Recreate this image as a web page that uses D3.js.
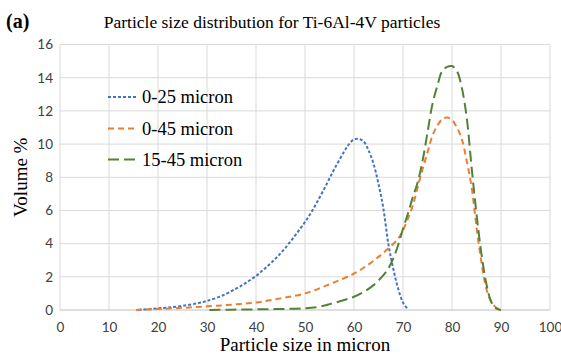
<!DOCTYPE html>
<html>
<head>
<meta charset="utf-8">
<script src="https://d3js.org/d3.v7.min.js"></script>
<style>
	body { margin: 0; background: #fff; }
</style>
</head>
<body>
<div id="chart"></div>
<script>
var titleText = "Particle size distribution for Ti-6Al-4V particles";
var panelLabel = "(a)";
var xTitle = "Particle size in micron";
var yTitle = "Volume %";
var xTicks = [0, 10, 20, 30, 40, 50, 60, 70, 80, 90, 100];
var yTicks = [0, 2, 4, 6, 8, 10, 12, 14, 16];
var seriesNames = ["0-25 micron", "0-45 micron", "15-45 micron"];

// 0-25 micron
var sizeA = [16, 18, 20, 22, 25, 28, 30, 33, 36, 38, 40, 42, 44, 46, 48, 50, 52, 54, 56, 58, 59, 60, 61, 62, 63, 64, 65, 66, 67, 68, 69, 70, 71];
var volA = [0.02, 0.05, 0.1, 0.15, 0.25, 0.4, 0.55, 0.85, 1.3, 1.65, 2.05, 2.55, 3.1, 3.75, 4.5, 5.3, 6.25, 7.35, 8.5, 9.55, 10.0, 10.28, 10.3, 10.15, 9.6, 8.8, 7.6, 6.1, 4.0, 2.5, 1.3, 0.45, 0.05];

// 0-45 micron
var sizeB = [15.5, 18, 20, 25, 30, 35, 40, 45, 50, 55, 60, 63, 65, 67, 69, 70, 71, 72, 73, 74, 75, 76, 77, 78, 79, 80, 81, 82, 83, 84, 85, 86, 87, 88, 89, 90];
var volB = [0, 0.03, 0.06, 0.13, 0.22, 0.32, 0.45, 0.7, 1.0, 1.55, 2.2, 2.75, 3.2, 3.7, 4.3, 4.8, 5.5, 6.3, 7.4, 8.5, 9.5, 10.5, 11.1, 11.5, 11.6, 11.45, 11.0, 10.3, 9.0, 7.4, 5.0, 2.9, 1.3, 0.5, 0.15, 0.02];

// 15-45 micron
var sizeC = [30.5, 35, 40, 45, 50, 53, 55, 58, 60, 62, 64, 66, 67, 68, 69, 70, 71, 72, 73, 74, 75, 76, 77, 78, 79, 80, 81, 82, 83, 84, 85, 86, 87, 88, 89, 90];
var volC = [0, 0.02, 0.04, 0.06, 0.1, 0.2, 0.35, 0.6, 0.8, 1.1, 1.5, 2.1, 2.5, 3.1, 3.9, 4.9, 5.8, 6.8, 7.7, 9.0, 10.7, 12.4, 13.5, 14.4, 14.65, 14.7, 14.4, 13.4, 11.6, 8.6, 5.8, 3.4, 1.6, 0.5, 0.1, 0];

var colors = ["#4472c4", "#ed7d31", "#548235"];
var dashes = ["3,2", "6,4", "11,5"];

function zipSeries(xs, ys) {
	var out = [];
	for (var i = 0; i < xs.length; i++) {
		out.push({ x: xs[i], y: ys[i] });
	}
	return out;
}

function drawChart() {
	var width = 561, height = 357;
	var plot = { left: 60, right: 550, top: 44.5, bottom: 310 };

	var svg = d3.select("#chart").append("svg")
		.attr("width", width).attr("height", height);

	var x = d3.scaleLinear().domain([0, 100]).range([plot.left, plot.right]);
	var y = d3.scaleLinear().domain([0, 16]).range([plot.bottom, plot.top]);

	// gridlines
	svg.append("g").selectAll("line").data(yTicks).enter().append("line")
		.attr("x1", plot.left).attr("x2", plot.right)
		.attr("y1", function(d) { return y(d); }).attr("y2", function(d) { return y(d); })
		.attr("stroke", function(d) { return d == 0 ? "#bfbfbf" : "#d9d9d9"; })
		.attr("stroke-width", 1);
	svg.append("g").selectAll("line").data(xTicks).enter().append("line")
		.attr("y1", plot.top).attr("y2", plot.bottom)
		.attr("x1", function(d) { return x(d); }).attr("x2", function(d) { return x(d); })
		.attr("stroke", "#d9d9d9").attr("stroke-width", 1);

	// axes labels
	var xAxis = d3.axisBottom(x).tickValues(xTicks).tickSize(0).tickPadding(12);
	var gx = svg.append("g").attr("transform", "translate(0," + plot.bottom + ")").call(xAxis);
	var yAxis = d3.axisLeft(y).tickValues(yTicks).tickSize(0).tickPadding(7);
	var gy = svg.append("g").attr("transform", "translate(" + plot.left + ",0)").call(yAxis);
	[gx, gy].forEach(function(g) {
		g.select(".domain").remove();
		g.selectAll("text").attr("font-family", "Lato, 'Open Sans', sans-serif")
			.attr("font-size", 13.5).attr("fill", "#404040");
	});

	// curves
	var line = d3.line()
		.x(function(d) { return x(d.x); })
		.y(function(d) { return y(d.y); })
		.curve(d3.curveCatmullRom.alpha(0.5));
	var series = [zipSeries(sizeA, volA), zipSeries(sizeB, volB), zipSeries(sizeC, volC)];
	for (var i = 0; i < series.length; i++) {
		svg.append("path").datum(series[i])
			.attr("d", line)
			.attr("fill", "none")
			.attr("stroke", colors[i])
			.attr("stroke-width", 2)
			.attr("stroke-dasharray", dashes[i]);
	}

	// legend
	var legendY = [97, 128.5, 159.5];
	for (var j = 0; j < seriesNames.length; j++) {
		svg.append("line")
			.attr("x1", 108).attr("x2", 137)
			.attr("y1", legendY[j]).attr("y2", legendY[j])
			.attr("stroke", colors[j]).attr("stroke-width", 2)
			.attr("stroke-dasharray", dashes[j]);
		svg.append("text")
			.attr("x", 142).attr("y", legendY[j] + 6)
			.attr("font-family", "'Liberation Serif', 'Times New Roman', serif")
			.attr("font-size", 18.5).attr("fill", "#000")
			.text(seriesNames[j]);
	}

	// titles
	svg.append("text")
		.attr("x", 272).attr("y", 28)
		.attr("text-anchor", "middle")
		.attr("font-family", "'Liberation Serif', 'Times New Roman', serif")
		.attr("font-size", 17.5).attr("fill", "#000")
		.text(titleText);
	svg.append("text")
		.attr("x", 6).attr("y", 28)
		.attr("font-family", "'Liberation Serif', 'Times New Roman', serif")
		.attr("font-weight", "bold")
		.attr("font-size", 20).attr("fill", "#000")
		.text(panelLabel);
	svg.append("text")
		.attr("x", (plot.left + plot.right) / 2).attr("y", 351)
		.attr("text-anchor", "middle")
		.attr("font-family", "'Liberation Serif', 'Times New Roman', serif")
		.attr("font-size", 19).attr("fill", "#000")
		.text(xTitle);
	svg.append("text")
		.attr("transform", "translate(27," + ((plot.top + plot.bottom) / 2) + ") rotate(-90)")
		.attr("text-anchor", "middle")
		.attr("font-family", "'Liberation Serif', 'Times New Roman', serif")
		.attr("font-size", 19).attr("fill", "#000")
		.text(yTitle);
}

drawChart();
</script>
</body>
</html>
